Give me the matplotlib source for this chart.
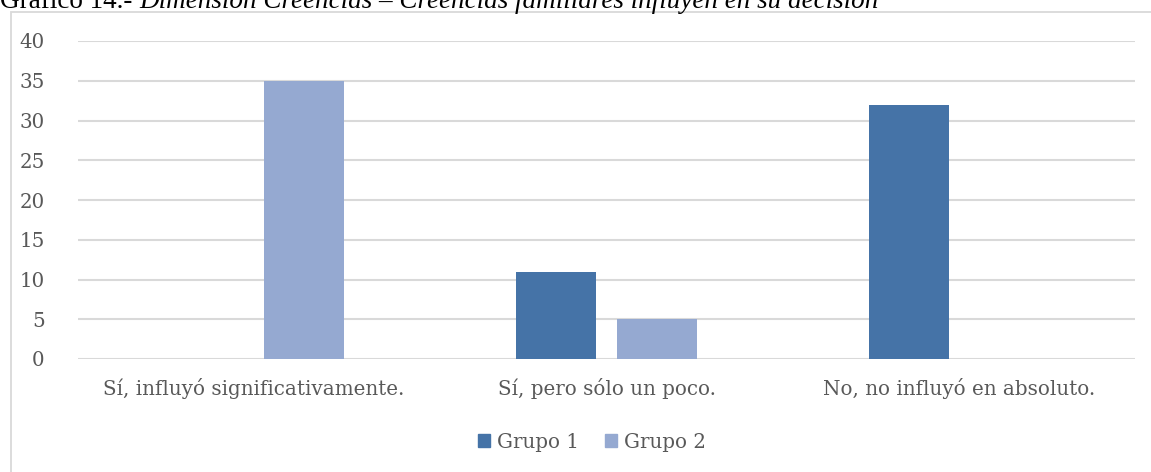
import numpy as np
import matplotlib
matplotlib.use("Agg")
import matplotlib.pyplot as plt
from matplotlib.patches import Rectangle, Patch

# datos del grafico
categorias = ["Sí, influyó significativamente.", "Sí, pero sólo un poco.", "No, no influyó en absoluto."]
grupo1 = [0, 11, 32]
grupo2 = [35, 5, 0]
series = ["Grupo 1", "Grupo 2"]
ticks_y = [0, 5, 10, 15, 20, 25, 30, 35, 40]

color1 = "#4573A7"
color2 = "#95A9D1"
gris_texto = "#595959"
gris_linea = "#D9D9D9"

plt.rcParams["font.family"] = ["DejaVu Serif"]
fuente_titulo = ["Liberation Serif", "DejaVu Serif"]

fig = plt.figure(figsize=(11.51, 4.72), dpi=100)
W, H = 1151, 472

# marco del grafico (se sale por la derecha y por abajo)
fig.patches.append(Rectangle((11 / W, -0.1), 1.2, 1 - 12 / H + 0.1, transform=fig.transFigure,
                             facecolor="white", edgecolor=gris_linea, linewidth=1.3, zorder=0))

# titulo cortado arriba, como en el original
t1 = fig.text(0.0, 1 - 8 / H, "Gráfico 14.- ", fontsize=19.5, family=fuente_titulo, color="black",
              va="baseline", ha="left")
fig.canvas.draw()
bb = t1.get_window_extent()
fig.text(bb.x1 / W, 1 - 8 / H, "Dimensión Creencias – Creencias familiares influyen en su decisión",
         fontsize=19.5, family=fuente_titulo, style="italic", color="black", va="baseline", ha="left")

ax = fig.add_axes([78 / W, 1 - 359 / H, (1135 - 78) / W, (359 - 41) / H])
ax.set_facecolor("none")
ax.set_zorder(2)

x = np.arange(len(categorias))
ancho = 0.227
desp = 0.142
ax.bar(x - desp, grupo1, ancho, color=color1, label=series[0], zorder=3)
ax.bar(x + desp, grupo2, ancho, color=color2, label=series[1], zorder=3)

ax.set_xlim(-0.5, 2.5)
ax.set_ylim(0, 40)
ax.set_yticks(ticks_y)
ax.set_xticks(x)
ax.set_xticklabels(categorias)
ax.grid(axis="y", color=gris_linea, linewidth=1.5, zorder=0)
for s in ax.spines.values():
    s.set_visible(False)
ax.tick_params(length=0, labelsize=14.3, labelcolor=gris_texto)
ax.tick_params(axis="y", pad=24)
ax.tick_params(axis="x", pad=14)

handles = [Patch(color=color1), Patch(color=color2)]
leg = fig.legend(handles, series, loc="center", bbox_to_anchor=(592 / W, 1 - 442 / H), ncol=2, frameon=False,
                 fontsize=14.3, labelcolor=gris_texto, handlelength=0.6, handleheight=0.6, handletextpad=0.35,
                 columnspacing=1.3)
leg.set_zorder(3)

fig.savefig("out.png", dpi=100)
